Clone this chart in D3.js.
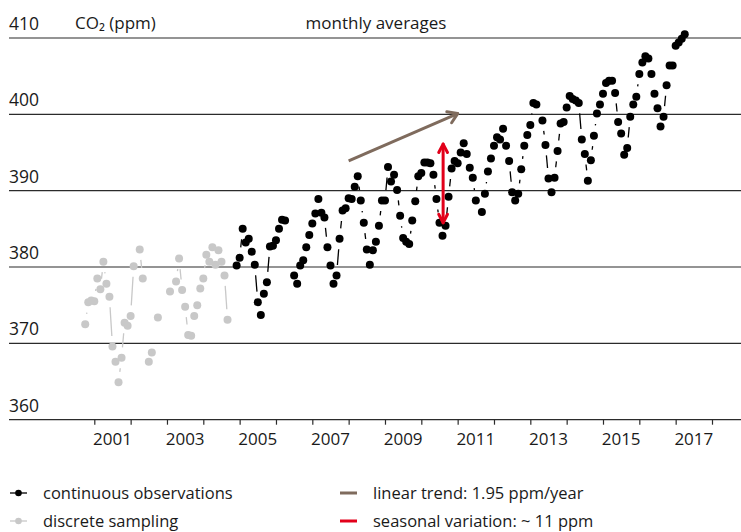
<!DOCTYPE html>
<html>
<head>
<meta charset="utf-8">
<script src="https://cdn.jsdelivr.net/npm/d3@7"></script>
<style>
  body { margin: 0; background: #fff; }
  svg { display: block; font-family: "Open Sans", sans-serif; }
  text { fill: #1a1a1a; }
</style>
</head>
<body>
<svg width="741" height="532"></svg>
<script>
// continuous observations, monthly means starting Dec 2004 (null = no data)
var contStart = 2004 + 11 / 12;
var contValues = [
  380.2,
  381.2, 385.0, 383.2, 383.7, 382.0, 380.3, 375.4, 373.7, 376.5, 378.0, 382.7, 382.8,
  383.5, 385.0, 386.2, 386.1, null, null, 378.9, 377.8, 380.2, 380.9, 382.6, 384.2,
  385.7, 387.0, 388.9, 387.1, 386.5, 382.6, 380.2, 377.8, 378.9, 383.7, 387.4, 387.7,
  389.0, 388.9, 390.5, 391.9, 388.7, 385.8, 382.3, 380.3, 382.2, 383.3, 385.4, 388.7,
  388.7, 393.1, 391.2, 392.1, 390.1, 386.7, 383.8, 383.3, 383.0, 386.1, 388.6, 391.9,
  392.3, 393.7, 393.7, 393.6, 392.1, 388.9, 385.8, 384.1, 385.4, 389.2, 392.9, 393.9,
  393.6, 395.0, 396.2, 394.8, 393.0, 391.7, 388.7, null, 387.2, 389.6, 392.5, 394.2,
  395.9, 397.0, 396.7, 398.1, 395.9, 393.9, 389.8, 388.7, 389.6, 392.8, 395.9, 397.3,
  398.6, 401.5, 401.3, null, 399.2, 396.0, 391.6, 389.8, 391.7, 395.2, 398.8, 399.0,
  400.9, 402.4, 402.0, 401.8, 401.5, 396.7, 394.8, 391.3, 394.0, 397.2, 400.1, 401.3,
  402.7, 404.1, 404.4, 404.4, 402.8, 399.0, 397.5, 394.7, 395.6, 399.7, 401.3, 402.3,
  405.3, 406.8, 407.6, 407.3, 405.3, 402.7, 400.8, 398.4, 399.7, 403.8, 406.4, 406.4,
  409.0, 409.4, 409.9, 410.5
];

// discrete sampling, monthly starting Oct 2000
var discStart = 2000 + 9 / 12;
var discValues = [
  372.5, 375.4, 375.6,
  375.5, 378.5, 377.1, 380.7, 377.8, 376.1, 369.6, 367.6, 364.9, 368.1, 372.7, 372.3,
  373.6, 380.1, null, 382.3, 378.5, null, 367.6, 368.8, null, 373.4, null, null,
  null, 376.8, null, 378.1, 381.1, 377.0, 374.8, 371.1, 371.0, 373.6, 375.0, 377.2,
  378.5, 381.6, 380.7, 382.6, 380.3, 382.2, 380.7, 378.9, 373.1
];

var yTicks = [360, 370, 380, 390, 400, 410];
var tickYears = [2001, 2002, 2003, 2004, 2005, 2006, 2007, 2008, 2009,
  2010, 2011, 2012, 2013, 2014, 2015, 2016, 2017, 2018];
var labelYears = [2001, 2003, 2005, 2007, 2009, 2011, 2013, 2015, 2017];

// linear trend arrow (year, ppm) and seasonal amplitude arrow
var trendLine = [[2008.0, 393.9], [2011.0, 400.1]];
var seasonalArrow = {year: 2010.6, low: 385.8, high: 396.1};

var legendItems = [
  {label: "continuous observations", kind: "dot", color: "#000"},
  {label: "discrete sampling", kind: "dot", color: "#c8c8c8"},
  {label: "linear trend: 1.95 ppm/year", kind: "bar", color: "#7f6b5d"},
  {label: "seasonal variation: ~ 11 ppm", kind: "bar", color: "#e2001a"}
];

var svg = d3.select("svg");

var x = d3.scaleLinear().domain([2001, 2018]).range([94.3, 712]);
var y = d3.scaleLinear().domain([360, 410]).range([419.7, 38]);

var r = 4, gap = 10.5;

// horizontal grid lines incl. the base line
svg.append("g")
  .selectAll("line")
  .data(yTicks)
  .enter().append("line")
    .attr("x1", 9)
    .attr("x2", 741)
    .attr("y1", function(d) { return y(d); })
    .attr("y2", function(d) { return y(d); })
    .attr("stroke", "#2b2b2b")
    .attr("stroke-width", 1.2);

svg.append("g")
  .selectAll("text")
  .data(yTicks)
  .enter().append("text")
    .attr("x", 9)
    .attr("y", function(d) { return y(d) - 8; })
    .attr("font-size", 17.5)
    .text(function(d) { return d; });

// year ticks
var xAxis = svg.append("g")
  .attr("transform", "translate(0," + y(360) + ")")
  .call(d3.axisBottom(x).tickValues(tickYears).tickSize(5).tickFormat(""));
xAxis.select(".domain").remove();
xAxis.selectAll(".tick line").attr("stroke", "#2b2b2b").attr("stroke-width", 1.2);

svg.append("g")
  .selectAll("text")
  .data(labelYears)
  .enter().append("text")
    .attr("x", function(d) { return x(d + 0.5); })
    .attr("y", 445)
    .attr("text-anchor", "middle")
    .attr("font-size", 17)
    .text(function(d) { return d; });

svg.append("text")
  .attr("x", 75)
  .attr("y", y(410) - 9)
  .attr("font-size", 17)
  .text("CO₂ (ppm)");

svg.append("text")
  .attr("x", 376)
  .attr("y", y(410) - 9)
  .attr("text-anchor", "middle")
  .attr("font-size", 17)
  .text("monthly averages");

function toPoints(values, start) {
  return values.map(function(v, i) {
    return v === null ? null : {x: x(start + i / 12), y: y(v)};
  });
}

// line pieces between neighbouring months, cut back around the dots
function segments(pts) {
  var segs = [];
  for (var i = 1; i < pts.length; i++) {
    var a = pts[i - 1], b = pts[i];
    if (!a || !b) continue;
    var dx = b.x - a.x, dy = b.y - a.y, len = Math.sqrt(dx * dx + dy * dy);
    if (len <= 2 * gap + 1) continue;
    var ux = dx / len, uy = dy / len;
    segs.push([a.x + ux * gap, a.y + uy * gap, b.x - ux * gap, b.y - uy * gap]);
  }
  return segs;
}

function drawSeries(values, start, color, width) {
  var pts = toPoints(values, start);
  var g = svg.append("g");
  g.selectAll("line")
    .data(segments(pts))
    .enter().append("line")
      .attr("x1", function(d) { return d[0]; })
      .attr("y1", function(d) { return d[1]; })
      .attr("x2", function(d) { return d[2]; })
      .attr("y2", function(d) { return d[3]; })
      .attr("stroke", color)
      .attr("stroke-width", width);
  g.selectAll("circle")
    .data(pts.filter(function(p) { return p; }))
    .enter().append("circle")
      .attr("cx", function(d) { return d.x; })
      .attr("cy", function(d) { return d.y; })
      .attr("r", r)
      .attr("fill", color);
}

drawSeries(discValues, discStart, "#c8c8c8", 1.3);
drawSeries(contValues, contStart, "#000", 1.3);

function arrowHead(g, tipX, tipY, angle, len, spread, color) {
  [-spread, spread].forEach(function(s) {
    var a = angle + Math.PI + s;
    g.append("line")
      .attr("x1", tipX)
      .attr("y1", tipY)
      .attr("x2", tipX + len * Math.cos(a))
      .attr("y2", tipY + len * Math.sin(a))
      .attr("stroke", color)
      .attr("stroke-width", 3)
      .attr("stroke-linecap", "round");
  });
}

// trend arrow
var tg = svg.append("g");
var tx0 = x(trendLine[0][0]), ty0 = y(trendLine[0][1]),
  tx1 = x(trendLine[1][0]), ty1 = y(trendLine[1][1]);
tg.append("line")
  .attr("x1", tx0).attr("y1", ty0)
  .attr("x2", tx1).attr("y2", ty1)
  .attr("stroke", "#7f6b5d")
  .attr("stroke-width", 3);
arrowHead(tg, tx1, ty1, Math.atan2(ty1 - ty0, tx1 - tx0), 11, 0.58, "#7f6b5d");

// seasonal amplitude arrow
var sg = svg.append("g");
var sx = x(seasonalArrow.year), sTop = y(seasonalArrow.high), sBot = y(seasonalArrow.low);
sg.append("line")
  .attr("x1", sx).attr("y1", sTop + 1)
  .attr("x2", sx).attr("y2", sBot - 1)
  .attr("stroke", "#e2001a")
  .attr("stroke-width", 3);
arrowHead(sg, sx, sTop, -Math.PI / 2, 9.5, 0.48, "#e2001a");
arrowHead(sg, sx, sBot, Math.PI / 2, 9.5, 0.48, "#e2001a");

// legend
var legend = svg.append("g")
  .selectAll("g")
  .data(legendItems)
  .enter().append("g")
    .attr("transform", function(d, i) {
      return "translate(" + (i < 2 ? 10 : 340) + "," + (i % 2 ? 521 : 493) + ")";
    });

legend.append("line")
  .attr("x1", 0)
  .attr("x2", 17)
  .attr("stroke", function(d) { return d.color; })
  .attr("stroke-width", function(d) { return d.kind === "bar" ? 3 : 1.3; });

legend.filter(function(d) { return d.kind === "dot"; })
  .append("circle")
    .attr("cx", 8.5)
    .attr("r", 3.3)
    .attr("fill", function(d) { return d.color; });

legend.append("text")
  .attr("x", 33)
  .attr("y", 6)
  .attr("font-size", 16.5)
  .text(function(d) { return d.label; });
</script>
</body>
</html>
